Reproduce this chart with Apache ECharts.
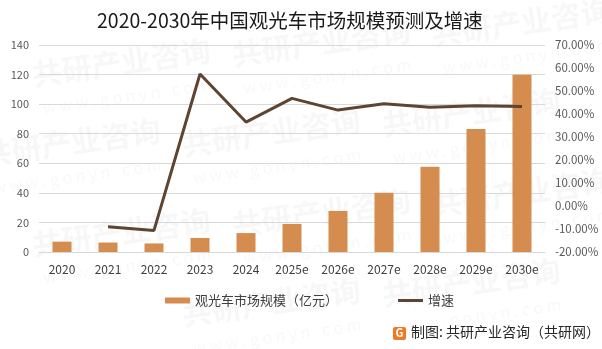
<!DOCTYPE html>
<html>
<head>
<meta charset="utf-8">
<script src="https://cdn.jsdelivr.net/npm/echarts@6/dist/echarts.min.js"></script>
<style>
html,body{margin:0;padding:0;background:#fff;}
#chart{width:602px;height:349px;}
</style>
</head>
<body>
<div id="chart"></div>
<script>
// 年份（e 为预测值）
const categories = ['2020','2021','2022','2023','2024','2025e','2026e','2027e','2028e','2029e','2030e'];
// 观光车市场规模（亿元）
const marketSize = [7.0, 6.4, 5.8, 9.5, 12.8, 19.0, 27.8, 40.0, 57.6, 83.2, 119.8];
// 增速（%），2020 年无数据
const growthRate = [null, -9.0, -10.6, 57.4, 36.5, 46.8, 41.7, 44.5, 42.9, 43.6, 43.3];

const barName = '观光车市场规模（亿元）';
const lineName = '增速';
const font = '"Microsoft YaHei","Noto Sans CJK SC","Noto Sans",sans-serif';

const chart = echarts.init(document.getElementById('chart'), null, {renderer: 'canvas'});

// 背景水印
const marks = [];
const spots = [[30, 60], [230, 40], [430, 20], [-20, 140], [180, 130], [380, 110], [30, 230], [230, 210], [430, 190], [180, 300], [380, 280]];
spots.forEach(([x, y]) => {
  marks.push({
    type: 'text', x: x, y: y, rotation: 0.14, silent: true, z: 0,
    style: {text: '共研产业咨询', fill: 'rgba(0,0,0,0.03)', font: 'bold 30px ' + font}
  });
  marks.push({
    type: 'text', x: x + 12, y: y + 40, rotation: 0.14, silent: true, z: 0,
    style: {text: 'w w w . g o n y n . c o m', fill: 'rgba(0,0,0,0.03)', font: '16px ' + font}
  });
});

chart.setOption({
  backgroundColor: '#ffffff',
  animation: false,
  title: {
    text: '2020-2030年中国观光车市场规模预测及增速',
    left: 92, top: 6,
    textStyle: {fontFamily: font, fontSize: 19.5, fontWeight: 'normal', color: '#1a1a1a'}
  },
  legend: {
    top: 289, left: 160, itemGap: 60,
    itemWidth: 25, itemHeight: 6, symbolKeepAspect: true,
    textStyle: {fontFamily: font, fontSize: 13, color: '#404040'},
    data: [
      {name: barName, icon: 'rect'},
      {name: lineName, icon: 'path://M0,0L25,0L25,3L0,3Z', itemStyle: {color: '#5e4431'}}
    ]
  },
  grid: {left: 39, right: 57, top: 45, bottom: 97, containLabel: false},
  xAxis: {
    type: 'category', data: categories,
    axisLine: {show: true, lineStyle: {color: '#d9d9d9'}},
    axisTick: {show: false},
    axisLabel: {fontFamily: font, fontSize: 12, color: '#404040', margin: 11}
  },
  yAxis: [
    {
      type: 'value', min: 0, max: 140, interval: 20,
      axisLine: {show: false}, axisTick: {show: false},
      axisLabel: {fontFamily: font, fontSize: 11, color: '#595959', margin: 10},
      splitLine: {lineStyle: {color: '#d9d9d9'}}
    },
    {
      type: 'value', min: -20, max: 70, interval: 10,
      axisLine: {show: false}, axisTick: {show: false},
      axisLabel: {fontFamily: font, fontSize: 11.5, color: '#595959', margin: 10,
        formatter: v => v.toFixed(2) + '%'},
      splitLine: {show: false}
    }
  ],
  series: [
    {
      name: barName, type: 'bar', data: marketSize, barWidth: 19,
      itemStyle: {color: '#d48c4f'}, z: 2
    },
    {
      name: lineName, type: 'line', yAxisIndex: 1, data: growthRate,
      symbol: 'none', connectNulls: false,
      lineStyle: {color: '#5e4431', width: 3}, itemStyle: {color: '#5e4431'}, z: 3
    }
  ],
  graphic: marks.concat([
    {
      type: 'rect', left: 393, top: 327, silent: true, z: 10,
      shape: {width: 13, height: 13, r: 2},
      style: {fill: '#f07a22'}
    },
    {
      type: 'text', left: 395.5, top: 327.5, silent: true, z: 11,
      style: {text: 'G', fill: '#ffffff', font: 'bold 11px ' + font}
    },
    {
      type: 'text', left: 411, top: 325, silent: true, z: 10,
      style: {text: '制图: 共研产业咨询（共研网）', fill: '#262626', font: '14px ' + font}
    }
  ])
});
</script>
</body>
</html>
